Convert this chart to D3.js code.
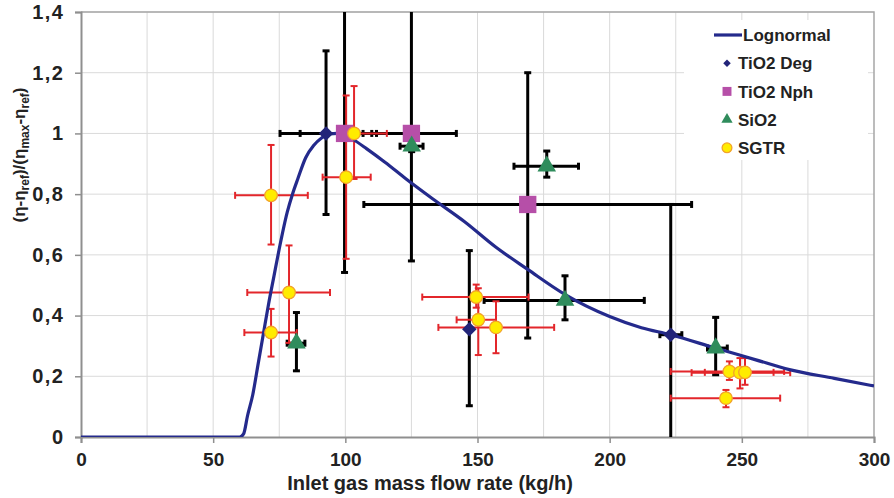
<!DOCTYPE html>
<html>
<head>
<meta charset="utf-8">
<script src="https://cdn.jsdelivr.net/npm/d3@7/dist/d3.min.js"></script>
<style>
  html, body { margin: 0; padding: 0; background: #fff; }
  svg { display: block; font-family: "Liberation Sans", Arial, sans-serif; }
</style>
</head>
<body>
<svg id="chart" width="894" height="498"></svg>
<script>
// ---------- data ----------
const xTickValues = [0, 50, 100, 150, 200, 250, 300];
const yTickValues = [0, 0.2, 0.4, 0.6, 0.8, 1.0, 1.2, 1.4];
const xTitle = "Inlet gas mass flow rate (kg/h)";

// Lognormal fit curve
const lognX = [0, 60, 61.5, 63, 65, 67, 69, 71, 73, 75, 78, 80, 82, 85, 88, 91, 94, 97, 100, 103, 108, 115, 123, 133, 145, 157, 169, 183, 200, 212, 223, 240, 255, 268, 285, 300];
const lognY = [0, 0, 0.01, 0.07, 0.14, 0.24, 0.34, 0.44, 0.53, 0.62, 0.74, 0.80, 0.85, 0.92, 0.96, 0.985, 0.998, 1.0, 0.995, 0.98, 0.95, 0.905, 0.85, 0.785, 0.71, 0.625, 0.552, 0.47, 0.397, 0.36, 0.337, 0.293, 0.255, 0.222, 0.193, 0.168];

// each point: x, y, x-error range, y-error range (null = none)
const tio2Deg = [
  { x: 92.7,  y: 1.0,   xlo: 75.3,  xhi: 110,   ylo: 0.733, yhi: 1.272 },
  { x: 146.9, y: 0.355, xlo: null,  xhi: null,  ylo: 0.103, yhi: 0.614 },
  { x: 223.1, y: 0.337, xlo: 219,   xhi: 227.3, ylo: 0,     yhi: 0.766 }
];
const tio2Nph = [
  { x: 99.7,  y: 1.0,   xlo: 82.9,  xhi: 111.8, ylo: 0.542, yhi: 1.6 },
  { x: 125.0, y: 1.0,   xlo: 106.7, xhi: 142,   ylo: 0.58,  yhi: 1.6 },
  { x: 169.0, y: 0.766, xlo: 107,   xhi: 231,   ylo: 0.326, yhi: 1.2 }
];
const sio2 = [
  { x: 81.5,  y: 0.309, xlo: 78,    xhi: 84.7,  ylo: 0.218, yhi: 0.41 },
  { x: 125.1, y: 0.958, xlo: 120.7, xhi: 129.4, ylo: 0.94,  yhi: 0.972 },
  { x: 176.2, y: 0.892, xlo: 163.8, xhi: 188.2, ylo: 0.856, yhi: 0.942 },
  { x: 183.1, y: 0.45,  xlo: 152.5, xhi: 213.1, ylo: 0.386, yhi: 0.531 },
  { x: 240.1, y: 0.293, xlo: 237,   xhi: 244.5, ylo: 0.205, yhi: 0.394 }
];
const sgtr = [
  { x: 71.9,  y: 0.796, xlo: 58.3,  xhi: 85.8,  ylo: 0.634, yhi: 0.962 },
  { x: 78.7,  y: 0.476, xlo: 62.9,  xhi: 94.2,  ylo: 0.31,  yhi: 0.631 },
  { x: 71.9,  y: 0.344, xlo: 61.8,  xhi: 81.6,  ylo: 0.265, yhi: 0.422 },
  { x: 103.3, y: 1.0,   xlo: 92,    xhi: 115.7, ylo: 0.85,  yhi: 1.156 },
  { x: 100.3, y: 0.856, xlo: 91.4,  xhi: 109.6, ylo: 0.587, yhi: 1.125 },
  { x: 149.5, y: 0.461, xlo: 129.1, xhi: 169.3, ylo: 0.426, yhi: 0.502 },
  { x: 150.3, y: 0.386, xlo: 142.1, xhi: 157,   ylo: 0.27,  yhi: 0.49 },
  { x: 157.0, y: 0.361, xlo: 135.2, xhi: 179,   ylo: 0.276, yhi: 0.447 },
  { x: 245.3, y: 0.216, xlo: 223.1, xhi: 266,   ylo: 0.188, yhi: 0.249 },
  { x: 249.3, y: 0.212, xlo: 231,   xhi: 268.3, ylo: 0.16,  yhi: 0.26 },
  { x: 251.2, y: 0.213, xlo: 236,   xhi: 262,   ylo: 0.172, yhi: 0.26 },
  { x: 244.0, y: 0.128, xlo: 223.1, xhi: 264.5, ylo: 0.098, yhi: 0.155 }
];
const legendLabels = ["Lognormal", "TiO2 Deg", "TiO2 Nph", "SiO2", "SGTR"];

// ---------- layout ----------
const W = 894, H = 498;
const m = { left: 81, right: 20, top: 12, bottom: 61 };
const svg = d3.select("#chart");
const x = d3.scaleLinear().domain([0, 300]).range([m.left, W - m.right]);
const y = d3.scaleLinear().domain([0, 1.4]).range([H - m.bottom, m.top]);

const C = {
  grid: "#dadada", axis: "#8f8f8f", line: "#242a8c",
  deg: "#222479", nph: "#b64fa8", sio2: "#2f8c5c",
  sgtrFill: "#ffec00", sgtrStroke: "#f2a22b", red: "#e3262b", black: "#000"
};

svg.append("defs").append("clipPath").attr("id", "plotclip")
  .append("rect").attr("x", m.left).attr("y", m.top)
  .attr("width", x(300) - x(0)).attr("height", y(0) - y(1.4));

// gridlines
const gridX = d3.range(25, 300, 25);
svg.append("g").selectAll("line").data(gridX).join("line")
  .attr("x1", d => x(d)).attr("x2", d => x(d))
  .attr("y1", y(0)).attr("y2", y(1.4))
  .attr("stroke", C.grid).attr("stroke-width", 1);
svg.append("g").selectAll("line").data(yTickValues.slice(1)).join("line")
  .attr("x1", x(0)).attr("x2", x(300))
  .attr("y1", d => y(d)).attr("y2", d => y(d))
  .attr("stroke", C.grid).attr("stroke-width", 1);

// frame (top/right)
svg.append("path")
  .attr("d", `M${x(0)},${y(1.4)}H${x(300)}V${y(0)}`)
  .attr("fill", "none").attr("stroke", "#a6a6a6").attr("stroke-width", 1.5);

// legend background (hides gridlines)
svg.append("rect").attr("x", 684).attr("y", 20).attr("width", 184).attr("height", 140)
  .attr("fill", "#fff");

// axes
const fmt = d => (Math.round(d * 10) / 10).toString().replace(".", ",");
const xAxis = svg.append("g").attr("transform", `translate(0,${y(0)})`)
  .call(d3.axisBottom(x).tickValues(xTickValues).tickSize(6).tickPadding(10).tickFormat(d3.format("d")));
const yAxis = svg.append("g").attr("transform", `translate(${x(0)},0)`)
  .call(d3.axisLeft(y).tickValues(yTickValues).tickSize(6).tickPadding(12).tickFormat(fmt));
[xAxis, yAxis].forEach(g => {
  g.select(".domain").attr("stroke", C.axis).attr("stroke-width", 2);
  g.selectAll(".tick line").attr("stroke", C.axis).attr("stroke-width", 1.5);
  g.selectAll(".tick text").attr("fill", "#222").attr("font-size", 19)
    .attr("font-weight", "bold").attr("font-family", "Liberation Sans, Arial, sans-serif");
});
yAxis.selectAll(".tick text").attr("font-size", 20).attr("letter-spacing", 1.5).attr("dx", 1.5);

// axis titles
svg.append("text").attr("x", 430).attr("y", 490)
  .attr("text-anchor", "middle").attr("font-size", 20).attr("font-weight", "bold")
  .attr("fill", "#222").text(xTitle);

const yt = svg.append("text").attr("transform", `translate(25,155) rotate(-90)`)
  .attr("text-anchor", "middle").attr("font-size", 17).attr("font-weight", "bold").attr("fill", "#222");
yt.append("tspan").text("(η-η");
yt.append("tspan").attr("font-size", 12).attr("dy", 4).text("ref");
yt.append("tspan").attr("dy", -4).text(")/(η");
yt.append("tspan").attr("font-size", 12).attr("dy", 4).text("max");
yt.append("tspan").attr("dy", -4).text("-η");
yt.append("tspan").attr("font-size", 12).attr("dy", 4).text("ref");
yt.append("tspan").attr("dy", -4).text(")");

// ---------- plot content ----------
const plot = svg.append("g").attr("clip-path", "url(#plotclip)");

function errorBars(g, data, color, width, cap) {
  const eg = g.append("g").attr("stroke", color).attr("stroke-width", width).attr("fill", "none");
  data.forEach(d => {
    if (d.ylo !== null) {
      eg.append("line").attr("x1", x(d.x)).attr("x2", x(d.x)).attr("y1", y(d.ylo)).attr("y2", y(d.yhi));
      [d.ylo, d.yhi].forEach(v => {
        if (v > 0 && v < 1.4)
          eg.append("line").attr("x1", x(d.x) - cap).attr("x2", x(d.x) + cap).attr("y1", y(v)).attr("y2", y(v));
      });
    }
    if (d.xlo !== null) {
      eg.append("line").attr("x1", x(d.xlo)).attr("x2", x(d.xhi)).attr("y1", y(d.y)).attr("y2", y(d.y));
      [d.xlo, d.xhi].forEach(v => {
        eg.append("line").attr("x1", x(v)).attr("x2", x(v)).attr("y1", y(d.y) - cap).attr("y2", y(d.y) + cap);
      });
    }
  });
}
errorBars(plot, tio2Deg, C.black, 3, 3.5);
errorBars(plot, tio2Nph, C.black, 3, 3.5);
errorBars(plot, sio2, C.black, 3, 3.5);
errorBars(plot, sgtr, C.red, 2, 3.5);

// lognormal curve
const curveData = lognX.map((v, i) => [v, lognY[i]]);
plot.append("path").datum(curveData)
  .attr("d", d3.line().x(d => x(d[0])).y(d => y(d[1])).curve(d3.curveMonotoneX))
  .attr("fill", "none").attr("stroke", C.line).attr("stroke-width", 3.2);

// markers
const sym = (type, size) => d3.symbol().type(type).size(size)();
function markers(data, type, size, fill, stroke, sw, rot) {
  plot.append("g").selectAll("path").data(data).join("path")
    .attr("transform", d => `translate(${x(d.x)},${y(d.y)}) rotate(${rot || 0})`)
    .attr("d", sym(type, size)).attr("fill", fill)
    .attr("stroke", stroke || "none").attr("stroke-width", sw || 0);
}
markers(tio2Deg, d3.symbolSquare, 105, C.deg, null, 0, 45);
markers(tio2Nph, d3.symbolSquare, 300, C.nph);
markers(sio2, d3.symbolTriangle, 150, C.sio2);
markers(sgtr, d3.symbolCircle, 125, C.sgtrFill, C.sgtrStroke, 1.3);

// ---------- legend ----------
const lg = svg.append("g");
const ly0 = 35, ldy = 28.2;
lg.append("line").attr("x1", 714).attr("x2", 742).attr("y1", ly0).attr("y2", ly0)
  .attr("stroke", C.line).attr("stroke-width", 3.2);
const legMarks = [
  { type: d3.symbolSquare, size: 28, fill: C.deg, rot: 45 },
  { type: d3.symbolSquare, size: 80, fill: C.nph },
  { type: d3.symbolTriangle, size: 55, fill: C.sio2 },
  { type: d3.symbolCircle, size: 75, fill: C.sgtrFill, stroke: C.sgtrStroke }
];
legMarks.forEach((d, i) => {
  lg.append("path").attr("transform", `translate(727,${ly0 + ldy * (i + 1)}) rotate(${d.rot || 0})`)
    .attr("d", sym(d.type, d.size)).attr("fill", d.fill)
    .attr("stroke", d.stroke || "none").attr("stroke-width", d.stroke ? 1.3 : 0);
});
legendLabels.forEach((t, i) => {
  lg.append("text").attr("x", i === 0 ? 743 : 738).attr("y", ly0 + ldy * i)
    .attr("dy", "0.36em").attr("font-size", 17).attr("font-weight", "bold")
    .attr("fill", "#222").text(t);
});
</script>
</body>
</html>
